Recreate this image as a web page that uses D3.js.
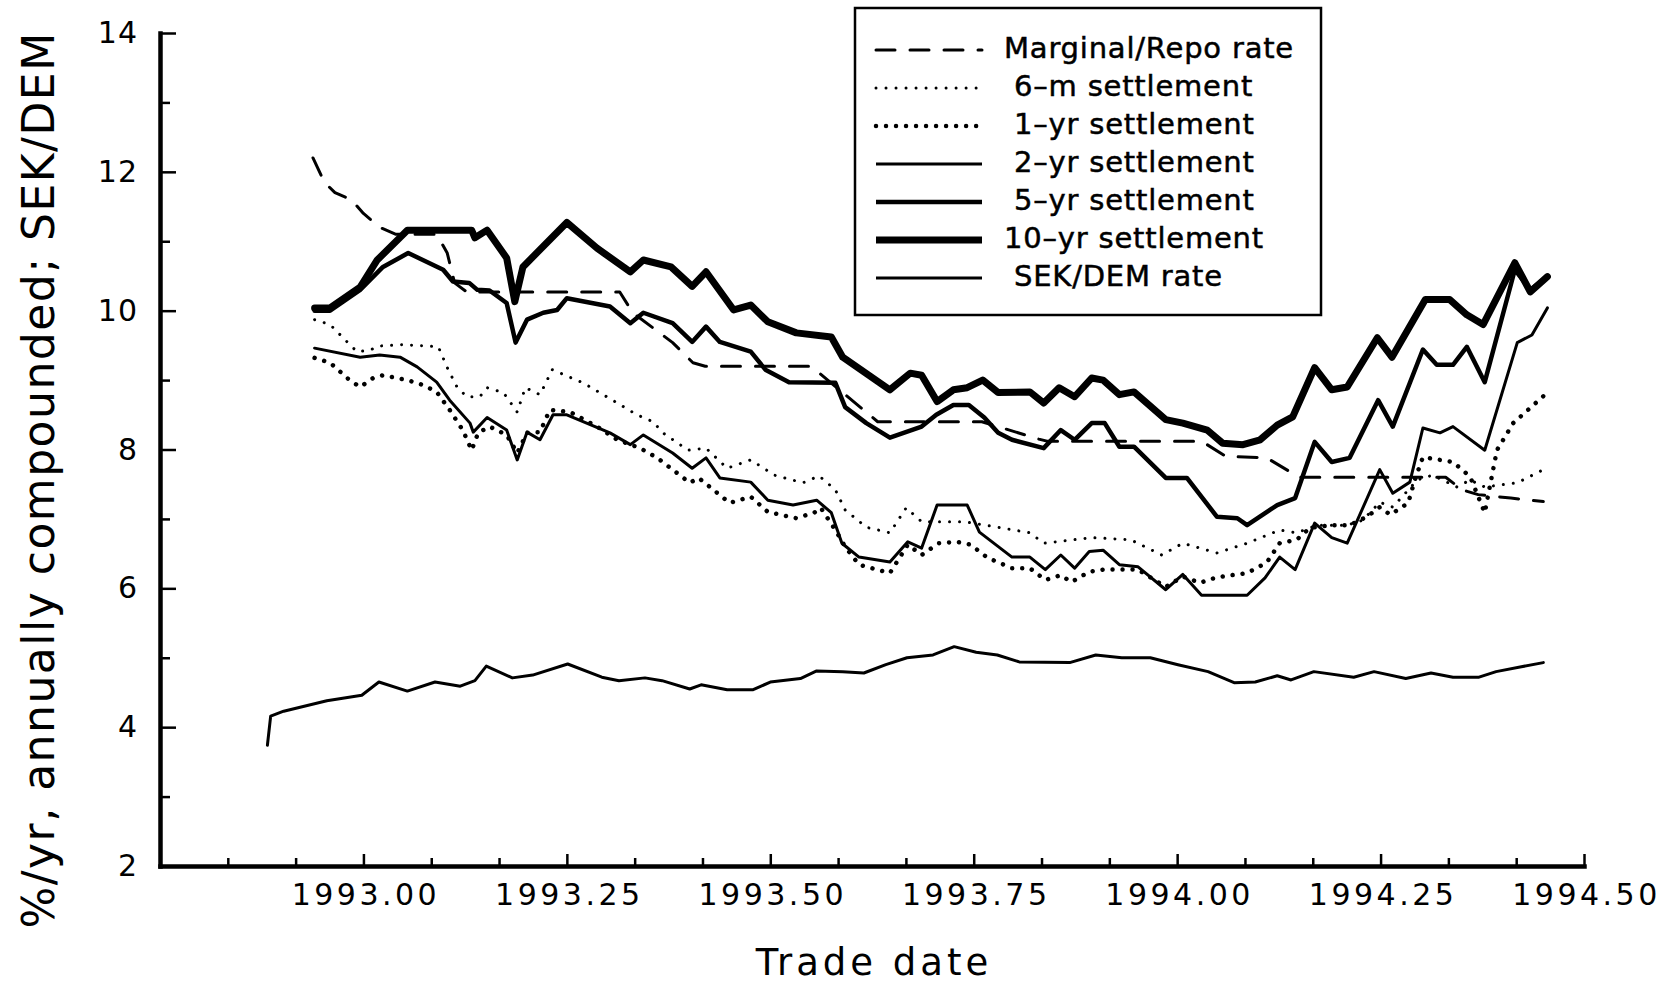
<!DOCTYPE html>
<html>
<head>
<meta charset="utf-8">
<script src="https://cdn.jsdelivr.net/npm/d3@7"></script>
<style>
	html, body { margin: 0; padding: 0; background: #fff; }
	svg { display: block; }
	text { font-family: 'DejaVu Sans', sans-serif; fill: #000; }
</style>
</head>
<body>
<svg id="chart" width="1675" height="984"></svg>
<script>
// values: [trade date (decimal year), value]
const MARGINAL = [
	[1992.938, 12.2], [1992.952, 11.85], [1992.965, 11.7], [1992.985, 11.6],
	[1993.0, 11.4], [1993.02, 11.2], [1993.04, 11.1], [1993.09, 11.1],
	[1993.103, 10.83], [1993.112, 10.4], [1993.127, 10.27], [1993.315, 10.27],
	[1993.331, 9.97], [1993.38, 9.54], [1993.405, 9.25], [1993.42, 9.2],
	[1993.55, 9.2], [1993.632, 8.4], [1993.76, 8.4], [1993.83, 8.15],
	[1993.84, 8.12], [1994.03, 8.12], [1994.06, 7.9], [1994.11, 7.88],
	[1994.15, 7.6], [1994.33, 7.6], [1994.35, 7.42], [1994.37, 7.35],
	[1994.41, 7.3], [1994.45, 7.25]
];

const SIX_M = [
	[1992.94, 9.87], [1992.959, 9.8], [1992.98, 9.55], [1992.992, 9.41],
	[1993.008, 9.43], [1993.018, 9.49], [1993.049, 9.51], [1993.092, 9.48],
	[1993.103, 9.18], [1993.115, 8.9], [1993.127, 8.76], [1993.143, 8.76],
	[1993.152, 8.89], [1993.172, 8.82], [1993.189, 8.54], [1993.199, 8.89],
	[1993.217, 8.79], [1993.232, 9.15], [1993.27, 8.96], [1993.312, 8.67],
	[1993.336, 8.5], [1993.356, 8.4], [1993.368, 8.24], [1993.399, 7.99],
	[1993.421, 8.02], [1993.447, 7.73], [1993.476, 7.85], [1993.505, 7.63],
	[1993.54, 7.52], [1993.56, 7.62], [1993.58, 7.42], [1993.592, 7.13],
	[1993.618, 6.88], [1993.647, 6.8], [1993.667, 7.16], [1993.686, 6.96],
	[1993.738, 6.96], [1993.78, 6.88], [1993.819, 6.8], [1993.836, 6.65],
	[1993.895, 6.73], [1993.943, 6.7], [1993.981, 6.48], [1994.007, 6.65],
	[1994.049, 6.51], [1994.086, 6.65], [1994.126, 6.84], [1994.147, 6.8],
	[1994.172, 6.91], [1994.209, 6.91], [1994.228, 6.98], [1994.249, 7.24],
	[1994.265, 7.17], [1994.295, 7.56], [1994.314, 7.63], [1994.344, 7.46],
	[1994.36, 7.56], [1994.378, 7.46], [1994.418, 7.52], [1994.45, 7.71]
];

const ONE_YR = [
	[1992.94, 9.32], [1992.959, 9.25], [1992.983, 9.0], [1992.996, 8.9],
	[1993.012, 9.03], [1993.024, 9.07], [1993.054, 9.0], [1993.073, 8.93],
	[1993.09, 8.83], [1993.106, 8.57], [1993.122, 8.28], [1993.133, 7.99],
	[1993.141, 8.24], [1993.155, 8.33], [1993.176, 8.21], [1993.189, 7.95],
	[1993.201, 8.24], [1993.217, 8.25], [1993.229, 8.57], [1993.254, 8.54],
	[1993.287, 8.33], [1993.312, 8.14], [1993.34, 8.02], [1993.361, 7.88],
	[1993.38, 7.71], [1993.401, 7.52], [1993.412, 7.59], [1993.43, 7.42],
	[1993.45, 7.23], [1993.476, 7.32], [1993.497, 7.1], [1993.532, 7.01],
	[1993.554, 7.09], [1993.562, 7.16], [1993.58, 6.84], [1993.592, 6.6],
	[1993.609, 6.34], [1993.647, 6.22], [1993.669, 6.63], [1993.686, 6.48],
	[1993.707, 6.65], [1993.729, 6.67], [1993.746, 6.63], [1993.767, 6.44],
	[1993.797, 6.29], [1993.819, 6.29], [1993.838, 6.12], [1993.857, 6.19],
	[1993.87, 6.09], [1993.892, 6.24], [1993.909, 6.27], [1993.952, 6.27],
	[1993.986, 6.02], [1994.007, 6.17], [1994.028, 6.08], [1994.049, 6.16],
	[1994.086, 6.22], [1994.11, 6.37], [1994.126, 6.65], [1994.147, 6.7],
	[1994.163, 6.87], [1994.188, 6.91], [1994.212, 6.91], [1994.233, 7.03],
	[1994.249, 7.17], [1994.262, 7.06], [1994.284, 7.23], [1994.292, 7.56],
	[1994.302, 7.89], [1994.323, 7.85], [1994.339, 7.82], [1994.36, 7.61],
	[1994.378, 7.09], [1994.393, 7.99], [1994.413, 8.38], [1994.434, 8.6],
	[1994.455, 8.82]
];

const TWO_YR = [
	[1992.94, 9.46], [1992.996, 9.33], [1993.02, 9.36], [1993.045, 9.33],
	[1993.066, 9.19], [1993.09, 8.97], [1993.106, 8.71], [1993.131, 8.38],
	[1993.135, 8.25], [1993.152, 8.46], [1993.176, 8.28], [1993.189, 7.85],
	[1993.201, 8.25], [1993.217, 8.14], [1993.233, 8.5], [1993.25, 8.5],
	[1993.303, 8.24], [1993.328, 8.07], [1993.344, 8.21], [1993.38, 7.95],
	[1993.404, 7.73], [1993.421, 7.88], [1993.438, 7.59], [1993.476, 7.53],
	[1993.497, 7.27], [1993.528, 7.2], [1993.557, 7.27], [1993.575, 7.09],
	[1993.588, 6.65], [1993.609, 6.45], [1993.647, 6.38], [1993.669, 6.67],
	[1993.686, 6.58], [1993.705, 7.2], [1993.742, 7.2], [1993.757, 6.81],
	[1993.797, 6.45], [1993.819, 6.45], [1993.838, 6.27], [1993.857, 6.48],
	[1993.874, 6.29], [1993.892, 6.53], [1993.909, 6.55], [1993.929, 6.34],
	[1993.952, 6.31], [1993.986, 5.98], [1994.007, 6.2], [1994.03, 5.9],
	[1994.086, 5.9], [1994.108, 6.15], [1994.126, 6.45], [1994.145, 6.27],
	[1994.169, 6.94], [1994.19, 6.73], [1994.209, 6.65], [1994.249, 7.71],
	[1994.265, 7.37], [1994.286, 7.53], [1994.302, 8.31], [1994.323, 8.24],
	[1994.339, 8.33], [1994.378, 7.99], [1994.418, 9.54], [1994.436, 9.65],
	[1994.455, 10.04]
];

const FIVE_YR = [
	[1992.94, 10.0], [1992.959, 10.0], [1992.996, 10.3], [1993.024, 10.63],
	[1993.055, 10.83], [1993.098, 10.59], [1993.11, 10.42], [1993.13, 10.4],
	[1993.14, 10.3], [1993.155, 10.29], [1993.176, 10.11], [1993.187, 9.54],
	[1993.201, 9.87], [1993.221, 9.97], [1993.238, 10.01], [1993.25, 10.18],
	[1993.303, 10.06], [1993.328, 9.82], [1993.344, 9.97], [1993.38, 9.82],
	[1993.404, 9.55], [1993.421, 9.77], [1993.438, 9.55], [1993.476, 9.41],
	[1993.494, 9.15], [1993.523, 8.97], [1993.58, 8.96], [1993.592, 8.61],
	[1993.618, 8.38], [1993.647, 8.17], [1993.686, 8.33], [1993.704, 8.5],
	[1993.725, 8.64], [1993.744, 8.64], [1993.763, 8.46], [1993.78, 8.24],
	[1993.797, 8.14], [1993.836, 8.02], [1993.857, 8.28], [1993.874, 8.14],
	[1993.895, 8.38], [1993.911, 8.38], [1993.929, 8.04], [1993.947, 8.04],
	[1993.986, 7.59], [1994.012, 7.59], [1994.049, 7.03], [1994.074, 7.01],
	[1994.086, 6.91], [1994.123, 7.2], [1994.145, 7.3], [1994.169, 8.11],
	[1994.19, 7.82], [1994.212, 7.88], [1994.247, 8.71], [1994.265, 8.33],
	[1994.302, 9.44], [1994.319, 9.22], [1994.339, 9.22], [1994.356, 9.48],
	[1994.378, 8.97], [1994.415, 10.59], [1994.434, 10.3], [1994.455, 10.49]
];

const TEN_YR = [
	[1992.94, 10.04], [1992.959, 10.04], [1992.996, 10.34], [1993.017, 10.73],
	[1993.054, 11.16], [1993.133, 11.16], [1993.137, 11.05], [1993.152, 11.16],
	[1993.176, 10.76], [1993.186, 10.13], [1993.196, 10.63], [1993.25, 11.27],
	[1993.287, 10.9], [1993.328, 10.56], [1993.344, 10.73], [1993.378, 10.63],
	[1993.404, 10.35], [1993.421, 10.56], [1993.455, 10.01], [1993.476, 10.08],
	[1993.497, 9.84], [1993.532, 9.68], [1993.575, 9.62], [1993.589, 9.33],
	[1993.647, 8.86], [1993.672, 9.1], [1993.686, 9.07], [1993.705, 8.69],
	[1993.725, 8.86], [1993.742, 8.89], [1993.761, 9.0], [1993.78, 8.82],
	[1993.819, 8.83], [1993.836, 8.67], [1993.855, 8.89], [1993.874, 8.76],
	[1993.895, 9.03], [1993.909, 9.0], [1993.929, 8.79], [1993.947, 8.83],
	[1993.986, 8.43], [1994.007, 8.38], [1994.037, 8.28], [1994.056, 8.09],
	[1994.081, 8.07], [1994.102, 8.14], [1994.123, 8.35], [1994.142, 8.47],
	[1994.169, 9.18], [1994.19, 8.86], [1994.209, 8.9], [1994.246, 9.61],
	[1994.264, 9.33], [1994.305, 10.16], [1994.335, 10.16], [1994.356, 9.94],
	[1994.376, 9.8], [1994.415, 10.69], [1994.434, 10.27], [1994.455, 10.49]
];

const SEK_DEM = [
	[1992.882, 3.74], [1992.886, 4.16], [1992.902, 4.23], [1992.955, 4.38],
	[1992.998, 4.46], [1993.019, 4.65], [1993.054, 4.52], [1993.088, 4.65],
	[1993.119, 4.59], [1993.137, 4.67], [1993.151, 4.88], [1993.183, 4.71],
	[1993.208, 4.75], [1993.251, 4.91], [1993.293, 4.72], [1993.314, 4.67],
	[1993.346, 4.71], [1993.367, 4.67], [1993.401, 4.55], [1993.415, 4.61],
	[1993.447, 4.54], [1993.479, 4.54], [1993.5, 4.65], [1993.537, 4.7],
	[1993.557, 4.81], [1993.589, 4.8], [1993.615, 4.78], [1993.642, 4.9],
	[1993.668, 5.0], [1993.7, 5.04], [1993.726, 5.16], [1993.753, 5.08],
	[1993.779, 5.04], [1993.806, 4.94], [1993.868, 4.93], [1993.9, 5.04],
	[1993.932, 5.0], [1993.967, 5.0], [1994.001, 4.9], [1994.038, 4.8],
	[1994.07, 4.64], [1994.096, 4.65], [1994.123, 4.74], [1994.14, 4.68],
	[1994.168, 4.8], [1994.217, 4.72], [1994.242, 4.8], [1994.281, 4.7],
	[1994.312, 4.78], [1994.339, 4.72], [1994.371, 4.72], [1994.392, 4.8],
	[1994.423, 4.87], [1994.45, 4.93]
];

const LEGEND_LABELS = [
	'Marginal/Repo rate',
	' 6\u2013m settlement',
	' 1\u2013yr settlement',
	' 2\u2013yr settlement',
	' 5\u2013yr settlement',
	'10\u2013yr settlement',
	' SEK/DEM rate'
];
const X_TICKS = [1993.0, 1993.25, 1993.5, 1993.75, 1994.0, 1994.25, 1994.5];
const Y_TICKS = [2, 4, 6, 8, 10, 12, 14];
const X_DOMAIN = [1992.75, 1994.5];
const Y_DOMAIN = [2, 14];

const SERIES = [
	{ data: MARGINAL, width: 3, dash: '19 15' },
	{ data: SIX_M, width: 3, dash: '0.01 10' },
	{ data: ONE_YR, width: 4.5, dash: '0.01 10' },
	{ data: TWO_YR, width: 3, dash: null },
	{ data: FIVE_YR, width: 4.5, dash: null },
	{ data: TEN_YR, width: 7, dash: null },
	{ data: SEK_DEM, width: 3, dash: null }
];

const $svg = d3.select('#chart');

const x = d3.scaleLinear().domain(X_DOMAIN).range([160, 1584]);
const y = d3.scaleLinear().domain(Y_DOMAIN).range([866, 33]);

function styleAxis(g, width) {
	g.select('.domain')
		.attr('stroke-width', width)
		.attr('stroke-linecap', 'square');
	g.selectAll('.tick line').attr('stroke-width', 2.5);
}

function drawAxes() {
	const months = d3.range(1, 21).filter(i => i % 3 !== 0).map(i => X_DOMAIN[0] + i / 12);
	$svg.append('g')
		.attr('transform', 'translate(0,866)')
		.call(d3.axisBottom(x).tickValues(months).tickSize(-8).tickSizeOuter(0).tickFormat(''))
		.call(g => g.select('.domain').remove())
		.call(g => g.selectAll('.tick line').attr('stroke-width', 2.5));

	const $xAxis = $svg.append('g')
		.attr('transform', 'translate(0,866)')
		.call(d3.axisBottom(x).tickValues(X_TICKS).tickSize(-12).tickSizeOuter(0)
			.tickPadding(18).tickFormat(d3.format('.2f')))
		.call(g => styleAxis(g, 4.5));
	$xAxis.selectAll('.tick text')
		.attr('font-family', null)
		.attr('font-size', 30)
		.attr('letter-spacing', 3.5)
		.attr('dx', 2);

	$svg.append('g')
		.attr('transform', 'translate(160,0)')
		.call(d3.axisLeft(y).tickValues(d3.range(3, 14, 2)).tickSize(-10).tickSizeOuter(0).tickFormat(''))
		.call(g => g.select('.domain').remove())
		.call(g => g.selectAll('.tick line').attr('stroke-width', 2.5));

	const $yAxis = $svg.append('g')
		.attr('transform', 'translate(160,0)')
		.call(d3.axisLeft(y).tickValues(Y_TICKS).tickSize(-16).tickSizeOuter(0).tickPadding(22))
		.call(g => styleAxis(g, 4.5));
	$yAxis.selectAll('.tick text')
		.attr('font-family', null)
		.attr('font-size', 30)
		.attr('letter-spacing', 1);

	$svg.append('text')
		.attr('x', 874)
		.attr('y', 975)
		.attr('text-anchor', 'middle')
		.attr('font-size', 37)
		.attr('letter-spacing', 4)
		.text('Trade date');

	$svg.append('text')
		.attr('transform', 'translate(54,480) rotate(-90)')
		.attr('text-anchor', 'middle')
		.attr('font-size', 44)
		.attr('letter-spacing', 1.5)
		.text('%/yr, annually compounded; SEK/DEM');
}

function drawLines() {
	const line = d3.line()
		.x(d => x(d[0]))
		.y(d => y(d[1]));

	$svg.append('g')
		.selectAll('path')
		.data(SERIES)
		.join('path')
		.attr('d', d => line(d.data))
		.attr('fill', 'none')
		.attr('stroke', '#000')
		.attr('stroke-width', d => d.width)
		.attr('stroke-dasharray', d => d.dash)
		.attr('stroke-linecap', 'round')
		.attr('stroke-linejoin', 'round');
}

function drawLegend() {
	const $legend = $svg.append('g');
	$legend.append('rect')
		.attr('x', 855)
		.attr('y', 8)
		.attr('width', 466)
		.attr('height', 307)
		.attr('fill', '#fff')
		.attr('stroke', '#000')
		.attr('stroke-width', 2.5);

	const $row = $legend.selectAll('.row')
		.data(SERIES)
		.join('g')
		.attr('transform', (d, i) => `translate(0,${50 + i * 38})`);

	$row.append('line')
		.attr('x1', 876)
		.attr('x2', 982)
		.attr('stroke', '#000')
		.attr('stroke-width', d => d.width)
		.attr('stroke-dasharray', d => d.dash)
		.attr('stroke-linecap', d => (d.dash ? 'round' : 'butt'));

	$row.append('text')
		.attr('x', 1004)
		.attr('y', 8)
		.attr('font-size', 29)
		.attr('letter-spacing', 0.8)
		.attr('stroke', '#000')
		.attr('stroke-width', 0.5)
		.style('white-space', 'pre')
		.text((d, i) => LEGEND_LABELS[i]);
}

drawLines();
drawAxes();
drawLegend();
</script>
</body>
</html>
